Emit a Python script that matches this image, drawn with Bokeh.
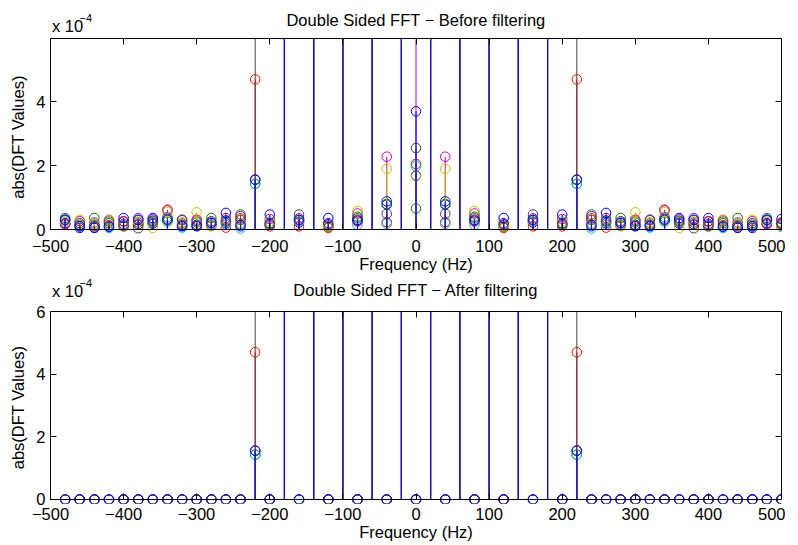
import math
from bokeh.plotting import figure
from bokeh.models import Range1d, FixedTicker, LinearAxis, Span, CustomLabelingPolicy
from bokeh.layouts import column
from bokeh.core.properties import value
from bokeh.embed import file_html
from bokeh.resources import INLINE

# ---------------- data (amplitudes in units of 1e-4) ----------------
# one-sided frequency bins 0..500 Hz (step 20); spectrum of a real signal is symmetric
freq_pos = [0, 20, 40, 60, 80, 100, 120, 140, 160, 180, 200, 220, 240, 260,
            280, 300, 320, 340, 360, 380, 400, 420, 440, 460, 480, 500]
H = 12.0  # off-scale stems (run past the top of the axes)

# before filtering, one list per plotted column (MATLAB colour order b g r c m y k b)
before_s1 = [1.69, H, 0.78, H, 0.30, H, 0.12, H, 0.22, H, 0.15, 1.56, 0.10, 0.20,
             0.12, 0.12, 0.10, 0.31, 0.18, 0.16, 0.25, 0.08, 0.06, 0.05, 0.20, 0.12]
before_s2 = [0.66, H, 0.80, H, 0.40, H, 0.08, H, 0.30, H, 0.18, 1.43, 0.47, 0.25,
             0.36, 0.22, 0.20, 0.25, 0.28, 0.22, 0.12, 0.20, 0.36, 0.15, 0.31, 0.20]
before_s3 = [2.05, H, 0.23, H, 0.25, H, 0.05, H, 0.10, H, 0.10, 4.70, 0.30, 0.06,
             0.12, 0.31, 0.15, 0.60, 0.20, 0.15, 0.26, 0.14, 0.10, 0.12, 0.16, 0.22]
before_s4 = [1.98, H, 0.18, H, 0.15, H, 0.15, H, 0.25, H, 0.18, 1.43, 0.03, 0.15,
             0.16, 0.26, 0.06, 0.30, 0.22, 0.31, 0.18, 0.05, 0.15, 0.09, 0.28, 0.08]
before_s5 = [H, H, 2.28, H, 0.50, H, 0.16, H, 0.35, H, 0.33, 1.56, 0.42, 0.36,
             0.22, 0.28, 0.29, 0.62, 0.32, 0.36, 0.16, 0.30, 0.22, 0.26, 0.18, 0.15]
before_s6 = [1.67, H, 1.90, H, 0.58, H, 0.10, H, 0.28, H, 0.25, 1.56, 0.20, 0.30,
             0.10, 0.54, 0.22, 0.55, 0.05, 0.25, 0.10, 0.30, 0.18, 0.30, 0.24, 0.10]
before_s7 = [2.55, H, 0.49, H, 0.35, H, 0.20, H, 0.47, H, 0.20, H, 0.35, 0.28,
             0.26, 0.15, 0.31, 0.38, 0.25, 0.04, 0.10, 0.25, 0.12, 0.20, 0.36, 0.18]
before_s8 = [3.70, H, 0.88, H, 0.28, H, 0.36, H, 0.30, H, 0.47, 1.56, 0.15, 0.52,
             0.20, 0.10, 0.12, 0.31, 0.36, 0.30, 0.36, 0.10, 0.05, 0.10, 0.30, 0.33]

# after filtering
after_s1 = [0, H, 0, H, 0, H, 0, H, 0, H, 0, 1.56, 0, 0, 0, 0, 0, 0, 0, 0, 0, 0, 0, 0, 0, 0]
after_s2 = [0, H, 0, H, 0, H, 0, H, 0, H, 0, 1.43, 0, 0, 0, 0, 0, 0, 0, 0, 0, 0, 0, 0, 0, 0]
after_s3 = [0, H, 0, H, 0, H, 0, H, 0, H, 0, 4.70, 0, 0, 0, 0, 0, 0, 0, 0, 0, 0, 0, 0, 0, 0]
after_s4 = [0, H, 0, H, 0, H, 0, H, 0, H, 0, 1.43, 0, 0, 0, 0, 0, 0, 0, 0, 0, 0, 0, 0, 0, 0]
after_s5 = [0, H, 0, H, 0, H, 0, H, 0, H, 0, 1.56, 0, 0, 0, 0, 0, 0, 0, 0, 0, 0, 0, 0, 0, 0]
after_s6 = [0, H, 0, H, 0, H, 0, H, 0, H, 0, 1.56, 0, 0, 0, 0, 0, 0, 0, 0, 0, 0, 0, 0, 0, 0]
after_s7 = [0, H, 0, H, 0, H, 0, H, 0, H, 0, H, 0, 0, 0, 0, 0, 0, 0, 0, 0, 0, 0, 0, 0, 0]
after_s8 = [0, H, 0, H, 0, H, 0, H, 0, H, 0, 1.56, 0, 0, 0, 0, 0, 0, 0, 0, 0, 0, 0, 0, 0, 0]

series_colors = ["#0000FF", "#008000", "#FF0000", "#00BFBF",
                 "#BF00BF", "#BFBF00", "#404040", "#0000FF"]

x_ticks = [-500, -400, -300, -200, -100, 0, 100, 200, 300, 400, 500]
x_tick_labels = ["\u2212500", "\u2212400", "\u2212300", "\u2212200", "\u2212100",
                 "0", "100", "200", "300", "400", "500"]
top_yticks = [0, 2, 4]
bottom_yticks = [0, 2, 4, 6]
top_ymax = 5.98
bottom_ymax = 6.0

title_top = "Double Sided FFT \u2212 Before filtering"
title_bottom = "Double Sided FFT \u2212 After filtering"
xlabel = "Frequency (Hz)"
ylabel = "abs(DFT Values)"
exp_base = "x 10"
exp_power = "\u22124"

# ---------------- layout / style constants ----------------
FONT = "Liberation Sans"
FS = "16.5px"
FRAME_L = 50
FRAME_W = 731
BORDER_R = 4
NO_LABELS = CustomLabelingPolicy(code="return []")


def mirror(vals):
    # -480..-20 then 0..500
    return [vals[i] for i in range(len(vals) - 2, 0, -1)] + list(vals)


freqs = [-f for f in freq_pos[len(freq_pos) - 2:0:-1]] + freq_pos


def base_axis(ax, ticks, bounds):
    ax.ticker = FixedTicker(ticks=ticks)
    ax.bounds = bounds
    ax.major_tick_in = 6
    ax.major_tick_out = 0
    ax.minor_tick_line_color = None
    ax.axis_line_color = "black"
    ax.major_tick_line_color = "black"
    ax.major_label_text_font = FONT
    ax.major_label_text_font_size = FS
    ax.major_label_text_color = "black"
    ax.axis_label_text_font = FONT
    ax.axis_label_text_font_size = FS
    ax.axis_label_text_font_style = "normal"
    ax.axis_label_text_color = "black"


def hide_labels(ax):
    ax.major_label_text_font_size = "0px"
    ax.major_label_standoff = 0
    ax.major_label_policy = NO_LABELS


def make_strip(height, title, title_y, exp_y, pow_y):
    x0, x1 = x_ticks[0], x_ticks[-1]
    s = figure(frame_width=FRAME_W, frame_height=height, output_backend="svg",
               toolbar_location=None, x_range=Range1d(x0, x1),
               y_range=Range1d(height, 0), x_axis_type=None, y_axis_type=None,
               min_border_left=FRAME_L, min_border_right=BORDER_R,
               min_border_top=0, min_border_bottom=0)
    s.outline_line_color = None
    s.xgrid.visible = False
    s.ygrid.visible = False
    s.text(x=[(x0 + x1) / 2], y=[title_y], text=[title],
           text_font=value(FONT), text_font_size=value(FS), text_color="black",
           text_align="center", text_baseline="middle")
    s.text(x=[x0], y=[exp_y], text=[exp_base], x_offset=1.5,
           text_font=value(FONT), text_font_size=value(FS), text_color="black",
           text_align="left", text_baseline="middle")
    s.text(x=[x0], y=[pow_y], text=[exp_power], x_offset=29,
           text_font=value(FONT), text_font_size=value("11px"), text_color="black",
           text_align="left", text_baseline="middle")
    return s


def make_fig(series_list, ymax, yticks, btop, bbot, px_per_unit, pad_px):
    x0, x1 = x_ticks[0], x_ticks[-1]
    y_pad = pad_px / px_per_unit   # room below zero so baseline markers are whole
    fh = int(round((ymax + y_pad) * px_per_unit))
    p = figure(frame_width=FRAME_W, frame_height=fh, output_backend="svg",
               toolbar_location=None,
               x_range=Range1d(x0, x1), y_range=Range1d(-y_pad, ymax),
               x_axis_type=None, y_axis_type=None,
               min_border_left=FRAME_L, min_border_right=BORDER_R,
               min_border_top=btop, min_border_bottom=bbot)
    p.outline_line_color = None
    p.background_fill_color = "white"
    p.border_fill_color = "white"

    bottom = LinearAxis()
    base_axis(bottom, x_ticks, (x0, x1))
    bottom.axis_line_color = None
    bottom.major_tick_out = -pad_px
    bottom.major_tick_in = pad_px + 6
    bottom.major_label_overrides = {t: l for t, l in zip(x_ticks, x_tick_labels)}
    bottom.major_label_standoff = 4
    bottom.axis_label = xlabel
    bottom.axis_label_standoff = 0
    p.add_layout(bottom, "below")

    top = LinearAxis()
    base_axis(top, x_ticks, (x0, x1))
    hide_labels(top)
    p.add_layout(top, "above")

    left = LinearAxis()
    base_axis(left, yticks, (0, ymax))
    left.major_label_overrides = {t: str(t) for t in yticks}
    left.major_label_standoff = 5
    left.axis_label = ylabel
    left.axis_label_standoff = 6
    p.add_layout(left, "left")

    right = LinearAxis()
    base_axis(right, yticks, (0, ymax))
    hide_labels(right)
    p.add_layout(right, "right")

    # stem baseline at zero
    p.add_layout(Span(location=0, dimension="width", line_color="black",
                      line_width=1))

    for vals, col in zip(series_list, series_colors):
        full = mirror(vals)
        p.segment(x0=freqs, y0=[0] * len(freqs), x1=freqs, y1=full,
                  line_color=col, line_width=1)
        p.scatter(x=freqs, y=full, marker="circle", size=9.5,
                  fill_color=None, line_color=col, line_width=1)
    return p


strip1 = make_strip(36, title_top, 19.5, 25.0, 17.2)
p1 = make_fig([before_s1, before_s2, before_s3, before_s4, before_s5, before_s6,
               before_s7, before_s8], top_ymax, top_yticks, 2, 41, 32.0, 6)
strip2 = make_strip(24, title_bottom, 13.0, 14.0, 6.5)
p2 = make_fig([after_s1, after_s2, after_s3, after_s4, after_s5, after_s6,
               after_s7, after_s8], bottom_ymax, bottom_yticks, 11, 41, 31.33, 4)

layout = column(strip1, p1, strip2, p2, spacing=0)
open("out.html", "w").write(file_html(layout, INLINE))
